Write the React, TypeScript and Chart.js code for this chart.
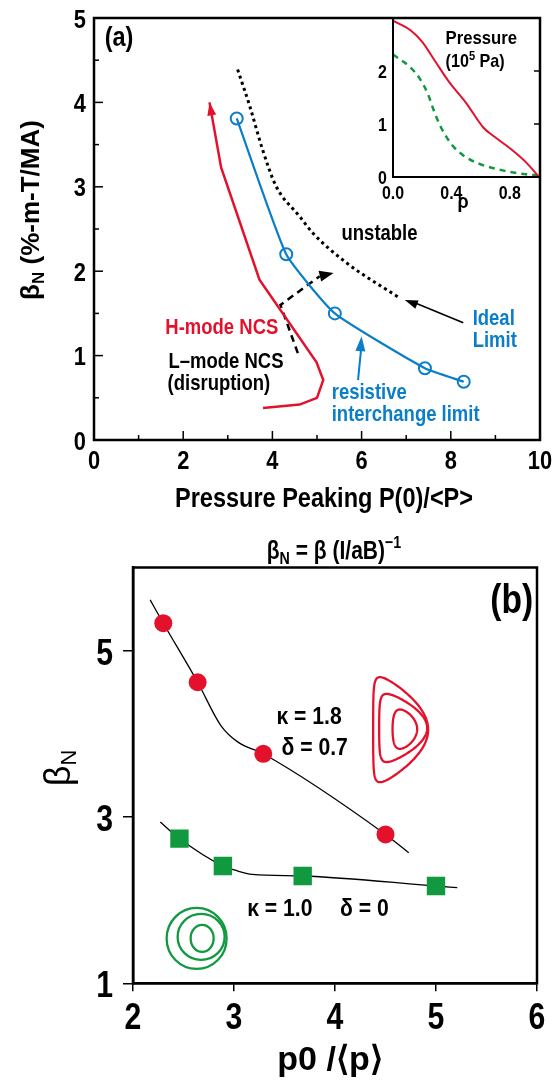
import React, { useEffect, useRef } from 'react';
import { Chart, registerables } from 'chart.js';

Chart.register(...registerables);

const SANS = "'Liberation Sans', Arial, sans-serif";
const RED = '#e4112d';
const BLUE = '#0a7ec8';
const GREEN = '#10993f';
const BLACK = '#000000';
const SQ = 0.84; // horizontal squeeze used for the condensed lettering

// ---------------- Panel (a) data ----------------
const aXTicks = [0, 2, 4, 6, 8, 10];
const aXMinor = [1, 3, 5, 7, 9];
const aYTicks = [0, 1, 2, 3, 4, 5];
const aYMinor = [0.5, 1.5, 2.5, 3.5, 4.5];

// H-mode NCS trajectory (red, arrow at the end)
const hModeX = [3.79, 4.61, 5.0, 5.14, 4.99, 3.71, 2.85, 2.59];
const hModeY = [0.38, 0.42, 0.5, 0.71, 0.92, 1.9, 3.23, 4.0];
// resistive interchange limit (blue, open circles)
const resistiveX = [3.2, 4.31, 5.4, 7.42, 8.29];
const resistiveY = [3.81, 2.2, 1.5, 0.85, 0.69];
// ideal limit (black dotted)
const idealX = [3.22, 3.49, 3.78, 4.08, 4.61, 4.91, 5.66, 6.86];
const idealY = [4.39, 3.96, 3.44, 3.01, 2.65, 2.45, 2.1, 1.68];
// L-mode NCS trajectory (black dashed, arrow at the end)
const lModeX = [4.57, 4.18, 5.06];
const lModeY = [1.03, 1.6, 1.94];
const lModeTipX = [5.06, 5.37];
const lModeTipY = [1.94, 1.98];
// pointer arrows
const idealArrowX = [8.28, 6.97];
const idealArrowY = [1.39, 1.66];
const resistArrowX = [5.92, 6.0];
const resistArrowY = [0.71, 1.23];

// ---------------- Inset data ----------------
const insetXTicks = [0, 0.4, 0.8];
const insetYTicks = [0, 1, 2];
const rhoRed = [0, 0.12, 0.2, 0.29, 0.38, 0.5, 0.62, 0.7, 0.82, 0.91, 1.0];
const pRed = [2.95, 2.77, 2.55, 2.18, 1.81, 1.4, 0.93, 0.75, 0.5, 0.28, 0];
const rhoGreen = [0, 0.11, 0.18, 0.24, 0.28, 0.33, 0.4, 0.48, 0.59, 0.75, 0.91, 1.0];
const pGreen = [2.31, 2.09, 1.87, 1.56, 1.25, 0.93, 0.62, 0.41, 0.25, 0.125, 0.05, 0.03];

// ---------------- Panel (b) data ----------------
const bXTicks = [2, 3, 4, 5, 6];
const bYTicks = [1, 3, 5];
const shapedX = [2.3, 2.64, 3.29, 4.5];
const shapedY = [5.33, 4.62, 3.76, 2.79];
const shapedFitX = [2.17, 2.3, 2.64, 2.87, 3.04, 3.29, 4.5, 4.73];
const shapedFitY = [5.61, 5.33, 4.62, 4.1, 3.9, 3.76, 2.79, 2.57];
const circX = [2.46, 2.89, 3.68, 5.0];
const circY = [2.74, 2.41, 2.29, 2.17];
const circFitX = [2.27, 2.46, 2.89, 3.01, 3.18, 3.68, 5.0, 5.21];
const circFitY = [2.94, 2.74, 2.41, 2.36, 2.31, 2.29, 2.17, 2.15];

type Pt = { x: number; y: number };
const zip = (xs: number[], ys: number[]): Pt[] => xs.map((x, i) => ({ x, y: ys[i] }));

const fnt = (size: number, weight = 'bold', fam = SANS) => `${weight} ${size}px ${fam}`;

type Part = { t: string; font: string; dy?: number };
function sText(ctx: CanvasRenderingContext2D, parts: Part[], x: number, y: number, align: 'left' | 'center' | 'right', color: string, sx = SQ) {
  let w = 0;
  parts.forEach((p) => { ctx.font = p.font; w += ctx.measureText(p.t).width; });
  w *= sx;
  const start = align === 'center' ? x - w / 2 : align === 'right' ? x - w : x;
  ctx.save();
  ctx.translate(start, y);
  ctx.scale(sx, 1);
  ctx.fillStyle = color;
  ctx.textAlign = 'left';
  ctx.textBaseline = 'alphabetic';
  let cx = 0;
  parts.forEach((p) => { ctx.font = p.font; ctx.fillText(p.t, cx, p.dy || 0); cx += ctx.measureText(p.t).width; });
  ctx.restore();
}

function arrowHead(ctx: CanvasRenderingContext2D, fx: number, fy: number, tx: number, ty: number, len: number, wid: number, color: string) {
  const a = Math.atan2(ty - fy, tx - fx);
  ctx.save();
  ctx.translate(tx, ty);
  ctx.rotate(a);
  ctx.beginPath();
  ctx.moveTo(0, 0);
  ctx.lineTo(-len, wid / 2);
  ctx.lineTo(-len, -wid / 2);
  ctx.closePath();
  ctx.fillStyle = color;
  ctx.fill();
  ctx.restore();
}

function tickLabels(ctx: CanvasRenderingContext2D, scale: any, fmt: (v: number) => string, size: number, place: (pix: number) => [number, number], align: 'center' | 'right', sx = SQ) {
  scale.ticks.forEach((t: any) => {
    const [x, y] = place(scale.getPixelForValue(t.value));
    sText(ctx, [{ t: fmt(t.value), font: fnt(size) }], x, y, align, BLACK, sx);
  });
}

const aLabels = [
  { text: '(a)', x: 0.24, y: 4.79, color: BLACK, size: 28 },
  { text: 'unstable', x: 5.55, y: 2.46, color: BLACK, size: 22 },
  { text: 'Ideal', x: 8.49, y: 1.46, color: BLUE, size: 22 },
  { text: 'Limit', x: 8.49, y: 1.19, color: BLUE, size: 22 },
  { text: 'H-mode NCS', x: 1.6, y: 1.35, color: RED, size: 22 },
  { text: 'L\u2013mode NCS', x: 1.67, y: 0.95, color: BLACK, size: 22 },
  { text: '(disruption)', x: 1.65, y: 0.69, color: BLACK, size: 22 },
  { text: 'resistive', x: 5.33, y: 0.585, color: BLUE, size: 22 },
  { text: 'interchange limit', x: 5.33, y: 0.32, color: BLUE, size: 22 },
];

const panelAPlugin = {
  id: 'panelA',
  afterDraw(chart: any) {
    const { ctx, chartArea: ca, scales } = chart;
    const sx = scales.x, sy = scales.y;
    const px = (v: number) => sx.getPixelForValue(v);
    const py = (v: number) => sy.getPixelForValue(v);
    ctx.save();
    ctx.strokeStyle = BLACK;
    ctx.lineWidth = 1.5;
    const seg = (x1: number, y1: number, x2: number, y2: number) => { ctx.beginPath(); ctx.moveTo(x1, y1); ctx.lineTo(x2, y2); ctx.stroke(); };
    aXTicks.forEach((v) => seg(px(v), ca.bottom, px(v), ca.bottom - 9));
    aXMinor.forEach((v) => seg(px(v), ca.bottom, px(v), ca.bottom - 5));
    aYTicks.forEach((v) => seg(ca.left, py(v), ca.left + 9, py(v)));
    aYMinor.forEach((v) => seg(ca.left, py(v), ca.left + 5, py(v)));
    ctx.lineWidth = 2.5;
    ctx.strokeRect(ca.left, ca.top, ca.right - ca.left, ca.bottom - ca.top);

    // arrow heads
    const n = hModeX.length;
    arrowHead(ctx, px(hModeX[n - 2]), py(hModeY[n - 2]), px(hModeX[n - 1]), py(hModeY[n - 1]), 13, 9, RED);
    arrowHead(ctx, px(lModeTipX[0]), py(lModeTipY[0]), px(lModeTipX[1]), py(lModeTipY[1]), 14, 11, BLACK);
    ctx.lineWidth = 1.6;
    ctx.strokeStyle = BLACK;
    seg(px(idealArrowX[0]), py(idealArrowY[0]), px(idealArrowX[1]) + 8, py(idealArrowY[1]) + 2);
    arrowHead(ctx, px(idealArrowX[0]), py(idealArrowY[0]), px(idealArrowX[1]), py(idealArrowY[1]), 13, 9, BLACK);
    ctx.lineWidth = 2;
    ctx.strokeStyle = BLUE;
    seg(px(resistArrowX[0]), py(resistArrowY[0]), px(resistArrowX[1]), py(resistArrowY[1]) + 8);
    arrowHead(ctx, px(resistArrowX[0]), py(resistArrowY[0]), px(resistArrowX[1]), py(resistArrowY[1]), 15, 10, BLUE);

    // labels
    aLabels.forEach((l) => {
      sText(ctx, [{ t: l.text, font: fnt(l.size) }], px(l.x), py(l.y) + l.size * 0.36, 'left', l.color);
    });

    // tick labels
    tickLabels(ctx, sx, (v) => String(v), 26, (p) => [p, ca.bottom + 29], 'center');
    tickLabels(ctx, sy, (v) => String(v), 26, (p) => [ca.left - 8, p + 9.5], 'right');

    // x axis title
    sText(ctx, [{ t: 'Pressure Peaking P(0)/<P>', font: fnt(28) }], 324, ca.bottom + 67, 'center', BLACK);

    // y axis title
    ctx.save();
    ctx.translate(30, 210);
    ctx.rotate(-Math.PI / 2);
    sText(ctx, [
      { t: '\u03b2', font: fnt(26) },
      { t: 'N', font: fnt(17), dy: 5 },
      { t: ' (%-m-T/MA)', font: fnt(26) },
    ], 0, 9, 'center', BLACK, 1);
    ctx.restore();
    ctx.restore();
  },
};

const insetPlugin = {
  id: 'inset',
  afterDraw(chart: any) {
    const { ctx, chartArea: ca, scales } = chart;
    const sx = scales.x, sy = scales.y;
    ctx.save();
    ctx.strokeStyle = BLACK;
    ctx.lineWidth = 2;
    ctx.beginPath();
    ctx.moveTo(ca.left, ca.top);
    ctx.lineTo(ca.left, ca.bottom);
    ctx.lineTo(ca.right, ca.bottom);
    ctx.stroke();
    ctx.lineWidth = 1.5;
    insetYTicks.forEach((v) => { const y = sy.getPixelForValue(v); ctx.beginPath(); ctx.moveTo(ca.right, y); ctx.lineTo(ca.right - 5, y); ctx.stroke(); });
    const lx = sx.getPixelForValue(0.36);
    sText(ctx, [{ t: 'Pressure', font: fnt(19) }], lx, sy.getPixelForValue(2.65) + 7, 'left', BLACK, 0.88);
    sText(ctx, [
      { t: '(10', font: fnt(19) },
      { t: '5', font: fnt(13), dy: -7 },
      { t: ' Pa)', font: fnt(19) },
    ], lx, sy.getPixelForValue(2.21) + 7, 'left', BLACK, 0.85);

    tickLabels(ctx, sx, (v) => v.toFixed(1), 19, (p) => [p, ca.bottom + 22], 'center');
    tickLabels(ctx, sy, (v) => String(v), 19, (p) => [ca.left - 6, p + 7], 'right');
    sText(ctx, [{ t: '\u03c1', font: fnt(20) }], sx.getPixelForValue(0.48), ca.bottom + 31, 'center', BLACK, 0.9);
    ctx.restore();
  },
};

const bLabels = [
  { text: '\u03ba = 1.8', x: 3.42, y: 4.21 },
  { text: '\u03b4 = 0.7', x: 3.47, y: 3.84 },
  { text: '\u03ba = 1.0', x: 3.13, y: 1.91 },
  { text: '\u03b4 = 0', x: 4.05, y: 1.91 },
];
// flux-surface sketches: anchor in data units; offsets / half-width in px, elongation, triangularity
const dShapeAnchor = { x: 4.65, y: 4.05 };
const dShapes = [
  { dx: 0, dy: 0, a: 27.5, k: 1.91, d: 0.85 },
  { dx: 2.5, dy: -1.7, a: 24, k: 1.42, d: 0.76 },
  { dx: 4.2, dy: -0.5, a: 12.3, k: 1.6, d: 0.41 },
];
const circleAnchor = { x: 2.63, y: 1.54 };
const circles = [
  { dx: 0, dy: 0, rx: 30, ry: 30.5 },
  { dx: 4.5, dy: -1.5, rx: 23.5, ry: 23 },
  { dx: 5.5, dy: 0, rx: 11.5, ry: 13.5 },
];

const panelBPlugin = {
  id: 'panelB',
  afterDraw(chart: any) {
    const { ctx, chartArea: ca, scales } = chart;
    const sx = scales.x, sy = scales.y;
    const px = (v: number) => sx.getPixelForValue(v);
    const py = (v: number) => sy.getPixelForValue(v);
    ctx.save();
    ctx.strokeStyle = BLACK;
    ctx.lineWidth = 2.5;
    ctx.strokeRect(ca.left, ca.top, ca.right - ca.left, ca.bottom - ca.top);

    // D shaped surfaces
    ctx.strokeStyle = RED;
    ctx.lineWidth = 2.3;
    const ax = px(dShapeAnchor.x), ay = py(dShapeAnchor.y);
    dShapes.forEach((s) => {
      ctx.beginPath();
      for (let i = 0; i <= 160; i++) {
        const th = (i / 160) * Math.PI * 2;
        const X = ax + s.dx + s.a * Math.cos(th + s.d * Math.sin(th));
        const Y = ay + s.dy - s.k * s.a * Math.sin(th);
        if (i === 0) ctx.moveTo(X, Y); else ctx.lineTo(X, Y);
      }
      ctx.closePath();
      ctx.stroke();
    });
    ctx.strokeStyle = GREEN;
    const gx = px(circleAnchor.x), gy = py(circleAnchor.y);
    circles.forEach((c) => {
      ctx.beginPath();
      ctx.ellipse(gx + c.dx, gy + c.dy, c.rx, c.ry, 0, 0, Math.PI * 2);
      ctx.stroke();
    });

    bLabels.forEach((l) => {
      sText(ctx, [{ t: l.text, font: fnt(23) }], px(l.x), py(l.y) + 8, 'left', BLACK, 0.92);
    });
    sText(ctx, [{ t: '(b)', font: fnt(40) }], px(5.75), py(5.61) + 13, 'center', BLACK);

    // tick labels
    tickLabels(ctx, sx, (v) => String(v), 36, (p) => [p, ca.bottom + 46], 'center');
    tickLabels(ctx, sy, (v) => String(v), 36, (p) => [ca.left - 20, p + 14], 'right');

    // x title
    sText(ctx, [{ t: 'p0 /\u27e8p\u27e9', font: fnt(34) }], 330, ca.bottom + 87, 'center', BLACK, 1);

    // top formula
    sText(ctx, [
      { t: '\u03b2', font: fnt(25) },
      { t: 'N', font: fnt(17), dy: 5 },
      { t: ' = \u03b2 (I/aB)', font: fnt(25) },
      { t: '\u22121', font: fnt(17), dy: -11 },
    ], 334, ca.top - 8.5, 'center', BLACK);

    // y title
    ctx.save();
    ctx.translate(58, ca.top + 200.5);
    ctx.rotate(-Math.PI / 2);
    sText(ctx, [
      { t: '\u03b2', font: fnt(36, 'normal') },
      { t: 'N', font: fnt(22, 'normal'), dy: 6 },
    ], 0, 12, 'center', BLACK, 1);
    ctx.restore();
    ctx.restore();
  },
};

const A_H = 525;
const B_H = 1082 - A_H;

export default function App() {
  const aRef = useRef<HTMLCanvasElement>(null);
  const iRef = useRef<HTMLCanvasElement>(null);
  const bRef = useRef<HTMLCanvasElement>(null);

  useEffect(() => {
    const charts: Chart[] = [];
    const common = {
      animation: false as const,
      responsive: false,
      events: [] as any[],
      plugins: { legend: { display: false }, tooltip: { enabled: false } },
    };
    const hidden = { display: false, drawTicks: false };

    charts.push(new Chart(aRef.current!, {
      type: 'scatter',
      data: {
        datasets: [
          { data: zip(resistiveX, resistiveY), showLine: true, borderColor: BLUE, borderWidth: 2.2, pointRadius: 6, pointBorderColor: BLUE, pointBorderWidth: 2, pointBackgroundColor: 'rgba(0,0,0,0)', tension: 0.15, order: 0 },
          { data: zip(hModeX, hModeY), showLine: true, borderColor: RED, borderWidth: 2.5, pointRadius: 0, order: 1 },
          { data: zip(idealX, idealY), showLine: true, borderColor: BLACK, borderWidth: 3, borderDash: [3, 3.5], pointRadius: 0, cubicInterpolationMode: 'monotone', order: 2 },
          { data: zip(lModeX, lModeY), showLine: true, borderColor: BLACK, borderWidth: 2.5, borderDash: [7, 5], pointRadius: 0, order: 3 },
        ],
      } as any,
      options: {
        ...common,
        layout: { padding: { top: 18, right: 13, left: 0, bottom: 0 } },
        scales: {
          x: {
            type: 'linear', min: 0, max: 10,
            afterBuildTicks: (s: any) => { s.ticks = aXTicks.map((v) => ({ value: v })); },
            afterFit: (s: any) => { s.height = A_H - 440; },
            grid: hidden, border: { display: false }, ticks: { display: false },
          },
          y: {
            type: 'linear', min: 0, max: 5,
            afterBuildTicks: (s: any) => { s.ticks = aYTicks.map((v) => ({ value: v })); },
            afterFit: (s: any) => { s.width = 94; },
            grid: hidden, border: { display: false }, ticks: { display: false },
          },
        },
      } as any,
      plugins: [panelAPlugin],
    }));

    charts.push(new Chart(iRef.current!, {
      type: 'scatter',
      data: {
        datasets: [
          { data: zip(rhoRed, pRed), showLine: true, borderColor: RED, borderWidth: 2, pointRadius: 0, cubicInterpolationMode: 'monotone' },
          { data: zip(rhoGreen, pGreen), showLine: true, borderColor: GREEN, borderWidth: 2.5, borderDash: [6, 5], pointRadius: 0, cubicInterpolationMode: 'monotone' },
        ],
      } as any,
      options: {
        ...common,
        layout: { padding: { top: 18, right: 14, left: 0, bottom: 0 } },
        scales: {
          x: {
            type: 'linear', min: 0, max: 1,
            afterBuildTicks: (s: any) => { s.ticks = insetXTicks.map((v) => ({ value: v })); },
            afterFit: (s: any) => { s.height = 40; },
            grid: hidden, border: { display: false }, ticks: { display: false },
          },
          y: {
            type: 'linear', min: 0, max: 3,
            afterBuildTicks: (s: any) => { s.ticks = insetYTicks.map((v) => ({ value: v })); },
            afterFit: (s: any) => { s.width = 33; },
            grid: hidden, border: { display: false }, ticks: { display: false },
          },
        },
      } as any,
      plugins: [insetPlugin],
    }));

    charts.push(new Chart(bRef.current!, {
      type: 'scatter',
      data: {
        datasets: [
          { data: zip(shapedX, shapedY), pointStyle: 'circle', pointRadius: 9, pointBackgroundColor: RED, pointBorderColor: RED, pointBorderWidth: 0, showLine: false, order: 0 },
          { data: zip(circX, circY), pointStyle: 'rect', pointRadius: 13, pointBackgroundColor: GREEN, pointBorderColor: GREEN, pointBorderWidth: 0, showLine: false, order: 0 },
          { data: zip(shapedFitX, shapedFitY), showLine: true, borderColor: BLACK, borderWidth: 1.3, pointRadius: 0, cubicInterpolationMode: 'monotone', order: 1 },
          { data: zip(circFitX, circFitY), showLine: true, borderColor: BLACK, borderWidth: 1.3, pointRadius: 0, cubicInterpolationMode: 'monotone', order: 1 },
        ],
      } as any,
      options: {
        ...common,
        layout: { padding: { top: 567.5 - A_H, right: 16, left: 0, bottom: 0 } },
        scales: {
          x: {
            type: 'linear', min: 2, max: 6,
            afterBuildTicks: (s: any) => { s.ticks = bXTicks.map((v) => ({ value: v })); },
            afterFit: (s: any) => { s.height = 1082 - 983.3; },
            grid: { display: true, drawOnChartArea: false, drawTicks: true, tickLength: 8, color: BLACK, lineWidth: 1.5 },
            border: { display: true, color: BLACK, width: 2.5 },
            ticks: { display: false },
          },
          y: {
            type: 'linear', min: 1, max: 6,
            afterBuildTicks: (s: any) => { s.ticks = bYTicks.map((v) => ({ value: v })); },
            afterFit: (s: any) => { s.width = 133; },
            grid: { display: true, drawOnChartArea: false, drawTicks: true, tickLength: 10, color: BLACK, lineWidth: 1.5 },
            border: { display: true, color: BLACK, width: 2.5 },
            ticks: { display: false },
          },
        },
      } as any,
      plugins: [panelBPlugin],
    }));

    return () => { charts.forEach((c) => c.destroy()); };
  }, []);

  return (
    <div style={{ position: 'absolute', left: 0, top: 0, width: 553, height: 1082, background: '#fff' }}>
      <canvas ref={aRef} width={553} height={A_H} style={{ position: 'absolute', left: 0, top: 0 }} />
      <canvas ref={iRef} width={193} height={217} style={{ position: 'absolute', left: 360, top: 0 }} />
      <canvas ref={bRef} width={553} height={B_H} style={{ position: 'absolute', left: 0, top: A_H }} />
    </div>
  );
}
